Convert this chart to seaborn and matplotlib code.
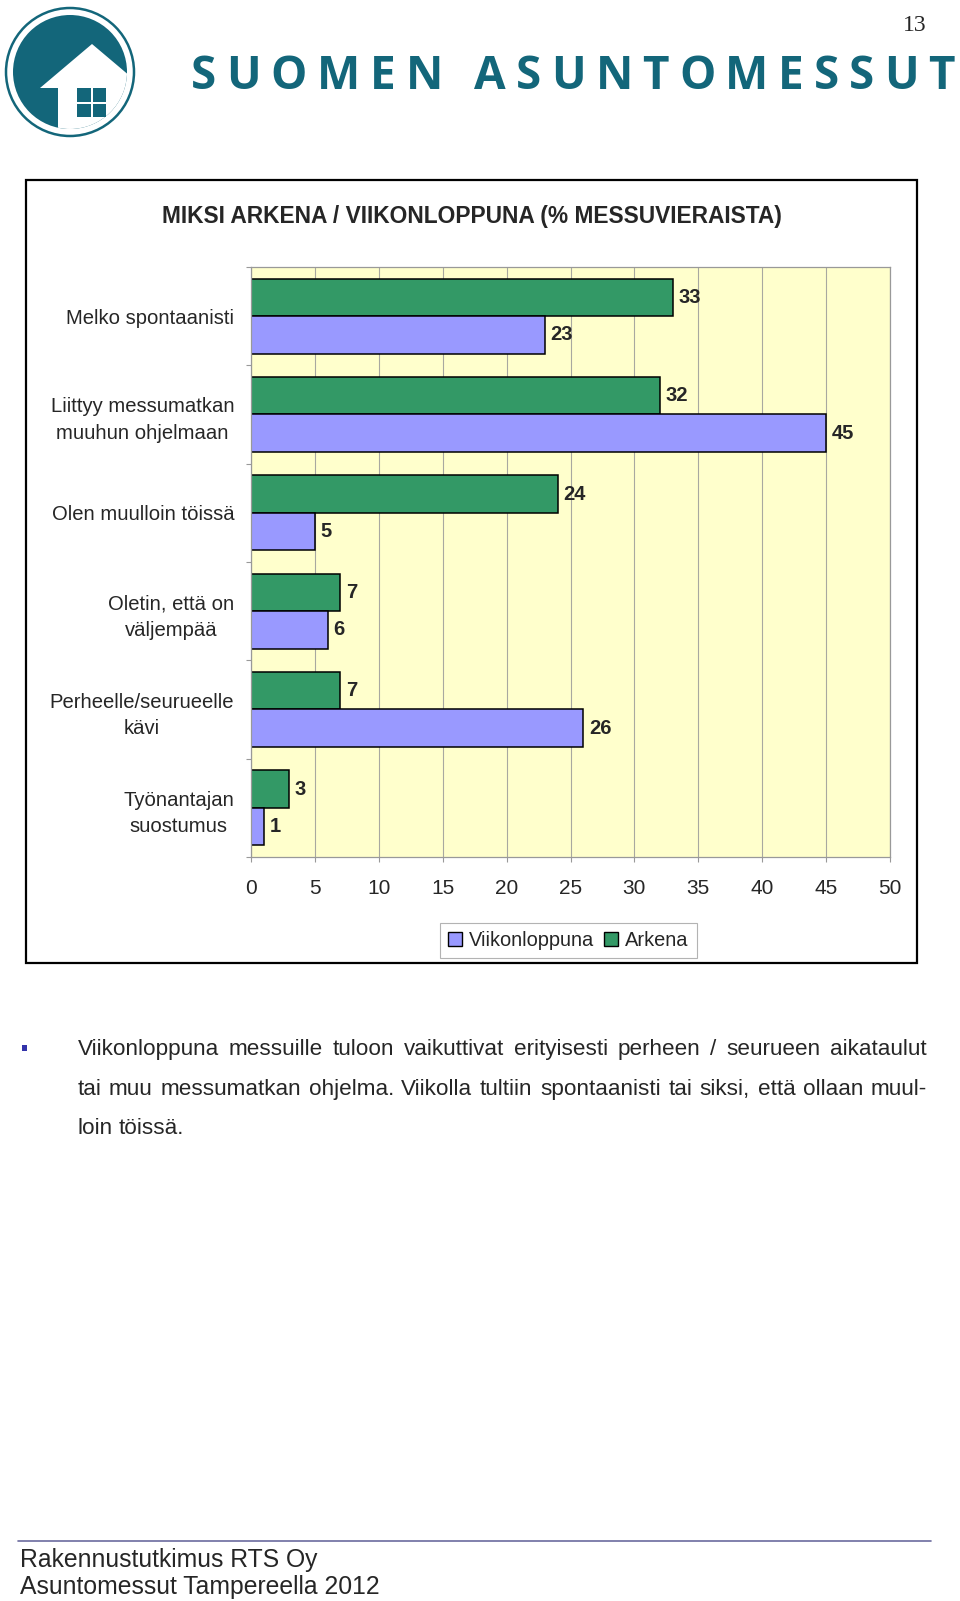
import numpy as np
import pandas as pd
import seaborn as sns
import matplotlib.pyplot as plt
from matplotlib.patches import Rectangle, Circle, Polygon, Patch

# Chart data
categories = ["Melko spontaanisti", "Liittyy messumatkan\nmuuhun ohjelmaan", "Olen muulloin töissä",
              "Oletin, että on\nväljempää", "Perheelle/seurueelle\nkävi", "Työnantajan\nsuostumus"]
arkena = [33, 32, 24, 7, 7, 3]
viikonloppuna = [23, 45, 5, 6, 26, 1]
series = ["Arkena", "Viikonloppuna"]
legend_order = ["Viikonloppuna", "Arkena"]
colors = {"Arkena": "#339966", "Viikonloppuna": "#9999FF"}
x_ticks = list(range(0, 55, 5))

# Page texts
title = "MIKSI ARKENA / VIIKONLOPPUNA (% MESSUVIERAISTA)"
brand = "SUOMEN ASUNTOMESSUT"
page_no = "13"
body_lines = ["Viikonloppuna messuille tuloon vaikuttivat erityisesti perheen / seurueen aikataulut",
              "tai muu messumatkan ohjelma. Viikolla tultiin spontaanisti tai siksi, että ollaan muul-",
              "loin töissä."]
footer_lines = ["Rakennustutkimus RTS Oy", "Asuntomessut Tampereella 2012"]

df = pd.DataFrame({"Syy": categories * 2,
                   "Osuus": arkena + viikonloppuna,
                   "Ryhmä": ["Arkena"] * len(arkena) + ["Viikonloppuna"] * len(viikonloppuna)})

sns.set_style("white")
plt.rcParams["font.family"] = ["Liberation Sans", "DejaVu Sans"]

TEAL = "#13667a"
W, H = 960, 1601
fig = plt.figure(figsize=(W / 100, H / 100), dpi=100)
renderer = fig.canvas.get_renderer()

# page layer in pixel coordinates
page = fig.add_axes([0, 0, 1, 1])
page.set_xlim(0, W)
page.set_ylim(H, 0)
page.axis("off")

# logo
disc = Circle((70, 72), 57, color=TEAL, lw=0)
page.add_patch(disc)
house = Polygon([(40, 88), (92, 44), (150, 93), (150, 140), (58, 140), (58, 88)],
                closed=True, color="white", lw=0)
page.add_patch(house)
house.set_clip_path(disc)
page.add_patch(Circle((70, 72), 64, fill=False, edgecolor=TEAL, lw=1.8))
for wx in (77, 92.5):
    for wy in (88, 103.5):
        page.add_patch(Rectangle((wx, wy), 13.5, 13.5, color=TEAL, lw=0))

# brand name with wide letter spacing
letters = [page.text(0, 76, ch, fontsize=33, fontweight="bold", family="Open Sans",
                     color=TEAL, va="center", ha="left") for ch in brand]
widths = [t.get_window_extent(renderer).width for t in letters]
track = (955 - 191 - sum(widths)) / (len(letters) - 1)
x = 191
for t, w in zip(letters, widths):
    t.set_x(x)
    x += w + track

page.text(927, 25, page_no, fontsize=17, family="Liberation Serif", ha="right", va="center")

# chart frame and title
page.add_patch(Rectangle((26, 180), 917 - 26, 963 - 180, fill=False, edgecolor="black", lw=1.6))
page.text(471.5, 216, title, fontsize=16.4, fontweight="bold", ha="center", va="center")

# bar chart
ax = fig.add_axes([251 / W, 1 - 857 / H, (890 - 251) / W, (857 - 267) / H])
sns.barplot(data=df, x="Osuus", y="Syy", hue="Ryhmä", hue_order=series, palette=colors,
            saturation=1, orient="h", width=0.76, edgecolor="black", linewidth=1.1,
            legend=False, ax=ax)
for c in ax.containers:
    ax.bar_label(c, fmt="%d", padding=4, fontsize=14.5, fontweight="bold")

ax.set_facecolor("#FFFFCC")
ax.set_xlim(0, 50)
ax.set_ylim(len(categories) - 0.5, -0.5)
ax.set_xticks(x_ticks)
ax.set_yticks(range(len(categories)))
ax.set_yticklabels(categories, multialignment="center", linespacing=1.5)
ax.set_yticks(np.arange(-0.5, len(categories), 1), minor=True)
ax.set_xlabel("")
ax.set_ylabel("")
ax.grid(axis="x", color="#a8a8a0", lw=0.8)
ax.set_axisbelow(True)
for s in ax.spines.values():
    s.set_color("#999999")
    s.set_linewidth(0.9)
ax.tick_params(axis="x", direction="out", length=3.6, width=0.8, color="#999999",
               pad=12, labelsize=15, bottom=True)
ax.tick_params(axis="y", which="major", length=0, pad=12, labelsize=14.6)
ax.tick_params(axis="y", which="minor", direction="out", length=3.6, width=0.8,
               color="#999999", left=True)

leg = fig.legend(handles=[Patch(facecolor=colors[n], edgecolor="black", label=n) for n in legend_order],
                 loc="center", bbox_to_anchor=(568.5 / W, 1 - 940 / H), ncol=2, frameon=True,
                 fancybox=False, edgecolor="#a0a0a0", fontsize=14.4, handlelength=0.7,
                 handleheight=0.7, handletextpad=0.35, columnspacing=0.5, borderpad=0.4)
leg.get_frame().set_linewidth(0.8)

# bullet text, justified
page.add_patch(Rectangle((22, 1045), 5, 6, color="#3333aa", lw=0))
line_y = [1049, 1089, 1128]
x0, x1 = 77.6, 927
body_size = 16.2
for i, (line, y) in enumerate(zip(body_lines, line_y)):
    words = line.split(" ")
    ts = [page.text(0, y, w, fontsize=body_size, ha="left", va="center") for w in words]
    ws = [t.get_window_extent(renderer).width for t in ts]
    if i < len(body_lines) - 1:
        gap = (x1 - x0 - sum(ws)) / (len(words) - 1)
    else:
        gap = 0.278 * body_size * 100 / 72
    x = x0
    for t, w in zip(ts, ws):
        t.set_x(x)
        x += w + gap

# footer
page.plot([18, 931], [1541, 1541], color="#6b6b9e", lw=1.2)
page.text(20, 1559.5, footer_lines[0], fontsize=17.8, ha="left", va="center")
page.text(20, 1587, footer_lines[1], fontsize=17.8, ha="left", va="center")

fig.savefig("out.png", dpi=100)
